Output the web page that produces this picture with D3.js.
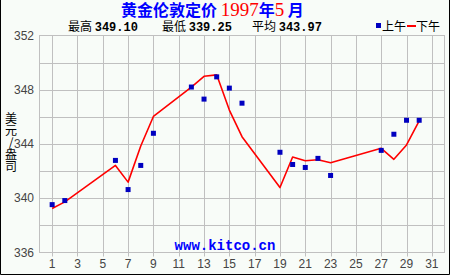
<!DOCTYPE html>
<html>
<head>
<meta charset="utf-8">
<script src="https://cdn.jsdelivr.net/npm/d3@7"></script>
<style>
  body { margin: 0; background: #fff; }
  svg { display: block; }
</style>
</head>
<body>
<div id="chart"></div>
<script>
// gold fixing, May 1997 - AM points, PM line
var days  = [1, 2, 6, 7, 8, 9, 12, 13, 14, 15, 16, 19, 20, 21, 22, 23, 27, 28, 29, 30];
var amFix = [339.53, 339.83, 342.79, 340.64, 342.42, 344.79, 348.20, 347.31, 348.95, 348.12,
             347.01, 343.39, 342.49, 342.27, 342.94, 341.68, 343.53, 344.72, 345.75, 345.75];
var pmFix = [339.25, 339.73, 342.42, 341.19, 343.85, 346.03, 348.20, 348.99, 349.10, 346.50,
             344.54, 340.79, 343.04, 342.77, 342.84, 342.62, 343.68, 342.87, 343.93, 345.70];
var xTicks = [1, 3, 5, 7, 9, 11, 13, 15, 17, 19, 21, 23, 25, 27, 29, 31];
var yTicks = [336, 340, 344, 348, 352];
var yGrid = [338, 340, 342, 344, 346, 348, 350];
var stats = [["最高", "349.10"], ["最低", "339.25"], ["平均", "343.97"]];

var W = 450, H = 275;
var x = d3.scaleLinear().domain([0, 32]).range([39.5, 444.5]);
var y = d3.scaleLinear().domain([336, 352]).range([252.5, 35.5]);

var svg = d3.select("#chart").append("svg")
    .attr("width", W).attr("height", H);

svg.append("rect").attr("width", W).attr("height", H).attr("fill", "#f8fcf8");
// frame left/right/bottom
svg.append("path")
    .attr("d", "M0.5,0V274.5H449.5V0")
    .attr("fill", "none").attr("stroke", "#000");

// grid
var grid = svg.append("g").attr("stroke", "#c0c0c0").attr("stroke-width", 1);
grid.selectAll(".vx").data(xTicks).enter().append("line")
    .attr("x1", d => Math.round(x(d)) + 0.5).attr("x2", d => Math.round(x(d)) + 0.5)
    .attr("y1", y(352)).attr("y2", y(336) + 4);
grid.selectAll(".hy").data(yGrid).enter().append("line")
    .attr("x1", x(0)).attr("x2", x(32))
    .attr("y1", d => Math.round(y(d)) + 0.5).attr("y2", d => Math.round(y(d)) + 0.5);
grid.append("rect")
    .attr("x", x(0)).attr("y", y(352))
    .attr("width", x(32) - x(0)).attr("height", y(336) - y(352))
    .attr("fill", "none");

// y ticks
svg.append("g").selectAll("text").data(yTicks).enter().append("text")
    .attr("x", 34).attr("y", d => y(d) + 4)
    .attr("text-anchor", "end")
    .attr("font-family", "Liberation Sans, Arial, sans-serif")
    .attr("font-size", 12).attr("fill", "#444")
    .text(d => d);

// x ticks
svg.append("g").selectAll("text").data(xTicks).enter().append("text")
    .attr("x", d => x(d)).attr("y", 268)
    .attr("text-anchor", "middle")
    .attr("font-family", "Liberation Sans, Arial, sans-serif")
    .attr("font-size", 12).attr("fill", "#444")
    .text(d => d);

// y axis title, vertical
svg.append("text")
    .attr("x", 11).attr("y", 112)
    .style("writing-mode", "vertical-rl")
    .style("text-orientation", "upright")
    .attr("font-family", "Noto Sans CJK SC, sans-serif")
    .attr("font-size", 12).attr("fill", "#000")
    .text("美元/盎司");

// title
var title = svg.append("text")
    .attr("x", 121).attr("y", 16)
    .attr("font-family", "Noto Sans CJK SC, sans-serif")
    .attr("font-size", 16).attr("font-weight", "bold");
title.append("tspan").attr("fill", "#0000ff").text("黄金伦敦定价 ");
title.append("tspan").attr("fill", "#ff0000")
    .attr("font-family", "Liberation Serif, serif").attr("font-weight", "normal")
    .attr("font-size", 19).text("1997");
title.append("tspan").attr("fill", "#0000ff").text("年");
title.append("tspan").attr("fill", "#ff0000")
    .attr("font-family", "Liberation Serif, serif").attr("font-weight", "normal")
    .attr("font-size", 19).text("5");
title.append("tspan").attr("fill", "#0000ff").text("  月");

// stats line
var statX = [68, 162, 252];
stats.forEach(function(s, i) {
  var t = svg.append("text").attr("x", statX[i]).attr("y", 31)
      .attr("font-size", 12).attr("fill", "#000");
  t.append("tspan").attr("font-family", "Noto Sans CJK SC, sans-serif").text(s[0] + " ");
  t.append("tspan").attr("font-family", "Liberation Mono, monospace")
      .attr("font-weight", "bold").text(s[1]);
});

// legend
svg.append("rect").attr("x", 376).attr("y", 23).attr("width", 5).attr("height", 5).attr("fill", "#0000c0");
svg.append("text").attr("x", 382).attr("y", 31)
    .attr("font-family", "Noto Sans CJK SC, sans-serif").attr("font-size", 12).text("上午");
svg.append("rect").attr("x", 407).attr("y", 25).attr("width", 9).attr("height", 2).attr("fill", "#ff0000");
svg.append("text").attr("x", 416).attr("y", 31)
    .attr("font-family", "Noto Sans CJK SC, sans-serif").attr("font-size", 12).text("下午");

// watermark
svg.append("text").attr("x", 225).attr("y", 250)
    .attr("text-anchor", "middle")
    .attr("font-family", "Liberation Mono, monospace")
    .attr("font-weight", "bold").attr("font-size", 14)
    .attr("fill", "#0000ff")
    .text("www.kitco.cn");

// PM line
var pm = days.map((d, i) => [d, pmFix[i]]);
var line = d3.line()
    .x(d => x(d[0])).y(d => y(d[1]));
svg.append("path").datum(pm)
    .attr("d", line)
    .attr("fill", "none").attr("stroke", "#ff0000").attr("stroke-width", 1.6)
    .attr("stroke-linejoin", "round");

// AM points
svg.append("g").selectAll("rect").data(days).enter().append("rect")
    .attr("x", (d, i) => x(d) - 2.5)
    .attr("y", (d, i) => y(amFix[i]) - 2.5)
    .attr("width", 5).attr("height", 5)
    .attr("fill", "#0000c0");
</script>
</body>
</html>
